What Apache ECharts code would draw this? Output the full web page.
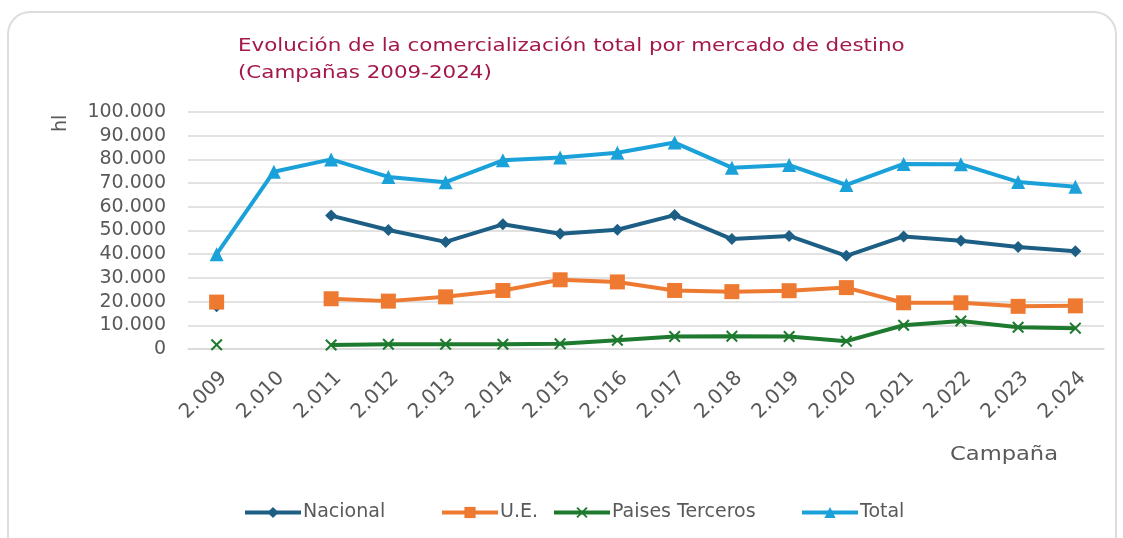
<!DOCTYPE html>
<html>
<head>
<meta charset="utf-8">
<script src="https://cdn.jsdelivr.net/npm/echarts@6/dist/echarts.min.js"></script>
<style>
  html, body { margin: 0; padding: 0; background: #fff; }
  #container { width: 1123px; height: 538px; }
</style>
</head>
<body>
<div id="container"></div>
<script>
// campañas
var campanas = ['2.009', '2.010', '2.011', '2.012', '2.013', '2.014', '2.015', '2.016',
                '2.017', '2.018', '2.019', '2.020', '2.021', '2.022', '2.023', '2.024'];
// hl por mercado (2010 sin desglose)
var nacional  = [18000, null, 56300, 50200, 45200, 52600, 48600, 50300, 56500, 46400, 47700, 39300, 47500, 45700, 43000, 41200];
var ue        = [19800, null, 21200, 20200, 22000, 24700, 29200, 28300, 24700, 24200, 24600, 25900, 19500, 19500, 18000, 18200];
var terceros  = [1800, null, 1700, 2000, 2000, 2000, 2200, 3700, 5300, 5400, 5300, 3300, 10000, 11800, 9200, 8800];
var total     = [40000, 74800, 80000, 72600, 70400, 79600, 80800, 82800, 87100, 76500, 77600, 69200, 78100, 78000, 70500, 68500];
var yTicks    = [0, 10000, 20000, 30000, 40000, 50000, 60000, 70000, 80000, 90000, 100000];
var seriesNames = ['Nacional', 'U.E.', 'Paises Terceros', 'Total'];

var xPath = 'path://M0,1.2L1.2,0L5,3.8L8.8,0L10,1.2L6.2,5L10,8.8L8.8,10L5,6.2L1.2,10L0,8.8L3.8,5Z';

var labelFont = 'DejaVu Sans';
var grey = '#595959';

function fmtMiles(v) {
  if (v === 0) return '0';
  return String(v).replace(/\B(?=(\d{3})+(?!\d))/g, '.');
}

// leyenda: una por serie, para colocarlas como en el original
var legendLeft = [238, 435, 547, 795];
var legends = seriesNames.map(function (n, i) {
  return {
    left: legendLeft[i],
    top: 498,
    itemWidth: 56,
    itemHeight: 14,
    lineStyle: { width: 4 },
    textStyle: { color: grey, fontSize: 19, fontFamily: labelFont, padding: [0, 0, 0, -3] },
    data: [n]
  };
});

var myChart = echarts.init(document.getElementById('container'));
var option = {
  animation: false,
  textStyle: { fontFamily: labelFont },
  graphic: [
    {
      type: 'rect',
      shape: { x: 8, y: 12, width: 1108, height: 560, r: 22 },
      style: { fill: 'none', stroke: '#dddddd', lineWidth: 2 },
      z: -1
    },
    {
      type: 'text',
      x: 238,
      y: 33,
      scaleX: 1.19,
      style: {
        text: 'Evolución de la comercialización total por mercado de destino\n(Campañas 2009-2024)',
        fill: '#A3174B',
        fontSize: 18,
        lineHeight: 27,
        fontFamily: labelFont,
        verticalAlign: 'top'
      }
    },
    {
      type: 'text',
      x: 52,
      y: 132,
      rotation: Math.PI / 2,
      style: { text: 'hl', fill: grey, fontSize: 19, fontFamily: labelFont, verticalAlign: 'top' }
    },
    {
      type: 'text',
      x: 950,
      y: 446,
      scaleX: 1.19,
      style: { text: 'Campaña', fill: grey, fontSize: 19, fontFamily: labelFont, verticalAlign: 'top' }
    }
  ],
  legend: legends,
  grid: { left: 188, right: 19, top: 112, bottom: 189, containLabel: false },
  xAxis: {
    type: 'category',
    data: campanas,
    boundaryGap: true,
    axisLine: { show: true, lineStyle: { color: '#d9d9d9', width: 1.5 } },
    axisTick: { show: false },
    axisLabel: {
      rotate: 45,
      margin: 19,
      color: grey,
      fontSize: 20,
      fontFamily: labelFont,
      verticalAlign: 'top',
      interval: 0
    }
  },
  yAxis: {
    type: 'value',
    min: 0,
    max: 100000,
    interval: 10000,
    axisLine: { show: false },
    axisTick: { show: false },
    splitLine: { lineStyle: { color: '#d9d9d9', width: 1.5 } },
    axisLabel: {
      margin: 22,
      color: grey,
      fontSize: 19,
      fontFamily: labelFont,
      formatter: function (v) { return yTicks.indexOf(v) >= 0 ? fmtMiles(v) : ''; }
    }
  },
  series: [
    {
      name: 'Nacional',
      type: 'line',
      data: nacional,
      connectNulls: false,
      symbol: 'diamond',
      symbolSize: 12,
      showSymbol: true,
      showAllSymbol: true,
      lineStyle: { width: 4, color: '#1D5E85' },
      itemStyle: { color: '#1D5E85' },
      z: 3
    },
    {
      name: 'U.E.',
      type: 'line',
      data: ue,
      connectNulls: false,
      symbol: 'rect',
      symbolSize: 15,
      showSymbol: true,
      showAllSymbol: true,
      lineStyle: { width: 4, color: '#EE7A32' },
      itemStyle: { color: '#EE7A32' },
      z: 4
    },
    {
      name: 'Paises Terceros',
      type: 'line',
      data: terceros,
      connectNulls: false,
      symbol: xPath,
      symbolSize: 12,
      showSymbol: true,
      showAllSymbol: true,
      lineStyle: { width: 4, color: '#1E7A2E' },
      itemStyle: { color: '#1E7A2E' },
      z: 3
    },
    {
      name: 'Total',
      type: 'line',
      data: total,
      connectNulls: false,
      symbol: 'triangle',
      symbolSize: 14,
      showSymbol: true,
      showAllSymbol: true,
      lineStyle: { width: 4, color: '#1BA1D9' },
      itemStyle: { color: '#1BA1D9' },
      z: 3
    }
  ]
};
myChart.setOption(option);
</script>
</body>
</html>
